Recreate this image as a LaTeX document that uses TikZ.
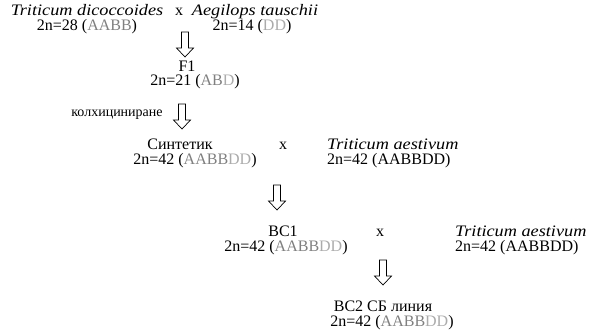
\documentclass[tikz,border=0pt]{standalone}
\usepackage{fontspec}
\setmainfont{Liberation Serif}[ItalicFeatures={FakeStretch=1.14}]
\usetikzlibrary{positioning}
\definecolor{genA}{HTML}{808080}
\definecolor{genD}{HTML}{ABABAB}

\newcommand{\AB}[1]{\textcolor{genA}{#1}}
\newcommand{\DD}[1]{\textcolor{genD}{#1}}

\begin{document}
\begin{tikzpicture}[x=1pt, y=-1pt,
  txt/.style={inner sep=0pt, font=\fontsize{16}{17}\selectfont, anchor=base},
  sp/.style={txt, font=\fontsize{16}{17}\selectfont\itshape},
  hollow/.pic={\draw[line width=0.7pt, fill=white]
      (-3.5,0) -- (3.5,0) -- (3.5,16) -- (8.5,16) -- (0,25) -- (-8.5,16) -- (-3.5,16) -- cycle;}]

% Canvas
\useasboundingbox (0,0) rectangle (592,333);

% Parents
\node[sp] (dic) at (87,15) {Triticum dicoccoides};
\node[txt] (dicg) at (87,30) {2n=28 (\AB{AABB})};
\node[txt] (x1) at (179,15) {x};
\node[sp] (aeg) at (255,15) {Aegilops tauschii};
\node[txt] (aegg) at (252,30) {2n=14 (\DD{DD})};
\pic at (185,32) {hollow};

% F1
\node[txt] (fone) at (187,71) {F1};
\node[txt] (foneg) at (195,85) {2n=21 (\AB{AB}\DD{D})};
\node[txt, font=\fontsize{14}{14}\selectfont] (kolh) at (117,116) {колхициниране};
\pic at (182,104) {hollow};

% Synthetic x aestivum
\node[txt] (syn) at (180,149.5) {Синтетик};
\node[txt] (syng) at (195,164) {2n=42 (\AB{AABB}\DD{DD})};
\node[txt] (x2) at (283,149.5) {x};
\node[sp, anchor=base west] (aesa) at (327,149.5) {Triticum aestivum};
\node[txt, anchor=base west] (aesag) at (327,164) {2n=42 (AABBDD)};
\pic at (277,185) {hollow};

% BC1 x aestivum
\node[txt] (bcone) at (283,236.5) {BC1};
\node[txt] (bconeg) at (286,251) {2n=42 (\AB{AABB}\DD{DD})};
\node[txt] (x3) at (380,236.5) {x};
\node[sp, anchor=base west] (aesb) at (455,236.5) {Triticum aestivum};
\node[txt, anchor=base west] (aesbg) at (455,251) {2n=42 (AABBDD)};
\pic at (383,260) {hollow};

% BC2
\node[txt] (bctwo) at (383,311.5) {BC2\kern4pt СБ линия};
\node[txt] (bctwog) at (392,326) {2n=42 (\AB{AABB}\DD{DD})};

\end{tikzpicture}
\end{document}
